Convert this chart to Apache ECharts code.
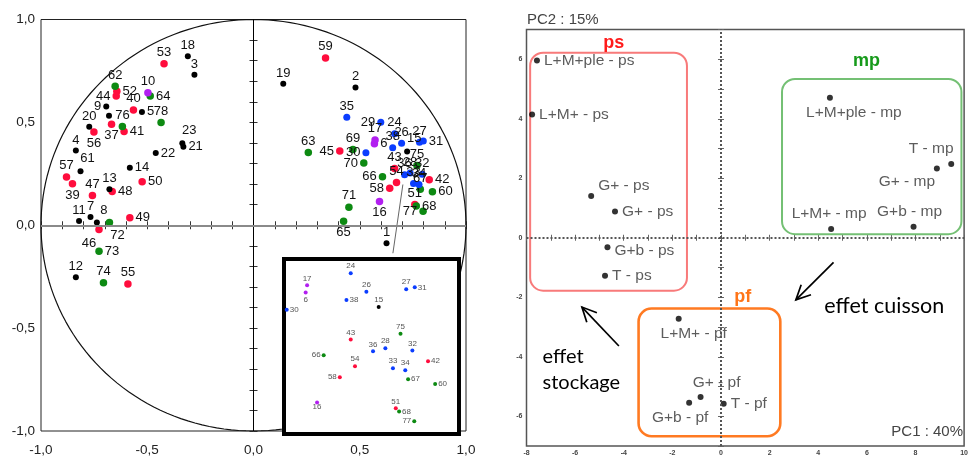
<!DOCTYPE html>
<html><head><meta charset="utf-8">
<script src="https://cdn.jsdelivr.net/npm/echarts@6/dist/echarts.min.js"></script>
<style>html,body{margin:0;padding:0;background:#fff}#c{width:971px;height:457px}</style>
</head><body><div id="c"></div>
<script>
// ===== Left panel: variables (correlation circle) [label, PC1 corr, PC2 corr] =====
const redVars = [
  ['53',-0.421,0.785],['52',-0.643,0.651],['44',-0.646,0.628],['40',-0.565,0.560],['37',-0.668,0.491],
  ['56',-0.751,0.453],['41',-0.609,0.456],['57',-0.880,0.234],['39',-0.852,0.202],['50',-0.524,0.212],
  ['47',-0.758,0.145],['48',-0.665,0.164],['49',-0.582,0.037],['46',-0.727,-0.021],['55',-0.591,-0.285],
  ['59',0.339,0.813],['45',0.406,0.361],['43',0.664,0.276],['42',0.827,0.221],['54',0.673,0.208],
  ['58',0.641,0.180],['51',0.759,0.101]
];
const blackVars = [
  ['18',-0.309,0.821],['3',-0.278,0.732],['9',-0.693,0.577],['5',-0.525,0.551],['25',-0.680,0.532],
  ['20',-0.773,0.479],['23',-0.335,0.399],['21',-0.330,0.382],['4',-0.836,0.363],['22',-0.460,0.351],
  ['61',-0.814,0.263],['14',-0.582,0.280],['13',-0.678,0.175],['11',-0.821,0.021],['7',-0.767,0.040],
  ['8',-0.737,0.013],['12',-0.836,-0.253],['19',0.140,0.688],['2',0.480,0.670],['1',0.626,-0.087],
  ['15',0.723,0.359]
];
const greenVars = [
  ['62',-0.651,0.675],['64',-0.486,0.628],['78',-0.435,0.499],['76',-0.617,0.480],['72',-0.678,0.013],
  ['73',-0.727,-0.126],['74',-0.706,-0.279],['63',0.258,0.353],['69',0.468,0.368],['70',0.519,0.302],
  ['65',0.424,0.020],['71',0.449,0.088],['75',0.769,0.291],['66',0.607,0.236],['67',0.785,0.175],
  ['60',0.842,0.163],['68',0.766,0.093],['77',0.798,0.068]
];
const blueVars = [
  ['35',0.439,0.525],['29',0.599,0.501],['24',0.664,0.445],['26',0.697,0.398],['27',0.781,0.404],
  ['31',0.799,0.409],['38',0.655,0.377],['30',0.529,0.352],['36',0.711,0.246],['28',0.737,0.254],
  ['32',0.794,0.248],['33',0.753,0.203],['34',0.779,0.198]
];
const purpleVars = [
  ['10',-0.497,0.644],['17',0.572,0.414],['6',0.569,0.396],['16',0.593,0.116]
];
const circleTicks = ['-1,0','-0,5','0,0','0,5','1,0'];

// ===== Right panel: observations (PCA scores) =====
const obsNames = ['L+M+ple - ps','L+M+ - ps','G+ - ps','G+ - ps','G+b - ps','T - ps',
  'L+M+ - pf','G+ - pf','G+b - pf','T - pf',
  'L+M+ple - mp','T - mp','G+ - mp','L+M+ - mp','G+b - mp'];
const obsPC1 = [-7.57,-7.77,-5.34,-4.36,-4.67,-4.77, -1.74,-0.84,-1.31,0.11, 4.48,9.47,8.88,4.53,7.92];
const obsPC2 = [5.96,4.14,1.40,0.88,-0.32,-1.28, -2.72,-5.35,-5.55,-5.58, 4.71,2.48,2.33,0.29,0.37];

// group boxes (annotation, data units)
const boxNames = ['ps','mp','pf'];
const boxLeft = [-7.85, 2.51, -3.39];
const boxTop = [6.22, 5.34, -2.38];
const boxRight = [-1.40, 9.89, 2.44];
const boxBottom = [-1.78, 0.12, -6.67];
const boxTitleX = [-4.41, 5.99, 0.89];
const boxTitleY = [6.55, 5.94, -1.99];

// arrows + comments (annotation, data units)
const arrowText = ['effet\nstockage', 'effet cuisson'];
const arrowFromX = [-4.20, 4.63], arrowFromY = [-3.64, -0.83];
const arrowToX = [-5.72, 3.08], arrowToY = [-2.33, -2.09];
const textX = [-7.34, 4.25], textY = [-4.44, -2.29];

// ===== styles =====
const colRed = '#ff0d3d', colBlack = '#000000', colGreen = '#0d8a12', colBlue = '#0b3dff', colPurple = '#b21ff0';
const boxStroke = ['#f87a7a', '#74c074', '#ff7a22'];
const boxLineW = [2, 2, 2.6];
const boxTitleCol = ['#ff1a1a', '#169a1a', '#ff7417'];
const arrowFont = ['20px Lato', '21.5px Lato'];

const mainLabelPos = {
  '52':'right','44':'left','64':'right','9':'left','5':'right','25':'hide','37':'bottom','56':'bottom',
  '41':'right','23':'topRight','21':'right','22':'right','61':'topRight','14':'right','39':'bottom',
  '50':'right','48':'right','8':'topRight','72':'bottomRight','49':'right','46':'bottomLeft','73':'right',
  '29':'left','45':'left','70':'left','65':'bottom','31':'right','30':'left','6':'right','66':'left',
  '58':'left','16':'bottom','77':'left','68':'right','60':'right','42':'right','15':'topRight'
};
const insetLabelPos = {
  '30':'right','31':'right','38':'right','66':'left','58':'left','42':'right','67':'right','60':'right',
  '68':'right','6':'bottom','16':'bottomC','77':'left'
};
const obsLabel = [
  {position:'right',offset:[0,0]},{position:'right'},{position:'right',offset:[0,-10]},{position:'right'},
  {position:'right',offset:[0,3]},{position:'right'},
  {position:'bottom',offset:[15,0]},{position:'top',offset:[16,1]},{position:'bottom',offset:[-9,0]},{position:'right'},
  {position:'bottom',offset:[24,0]},{position:'top',offset:[-20,0]},{position:'bottom',offset:[-30,-2]},
  {position:'top',offset:[-2,0]},{position:'top',offset:[-4,0]}
];

function lbl(pos, small){
  const d = small ? 1 : 2;
  switch(pos){
    case 'left': return {position:'left', distance:d};
    case 'right': return {position:'right', distance:d};
    case 'bottom': return {position:'bottom', distance:1};
    case 'bottomC': return {position:'bottom', distance:-2};
    case 'topRight': return {position:'top', offset:[7,2]};
    case 'bottomRight': return {position:'bottom', offset:[8,-2]};
    case 'bottomLeft': return {position:'bottom', offset:[-10,-1]};
    case 'hide': return {show:false};
    default: return {position:'top', distance:1};
  }
}

const INSET_X = [0.5233, 0.8923], INSET_Y = [0.0356, 0.4811];

function mainSeries(arr, color, size){
  return {
    type:'scatter', xAxisIndex:0, yAxisIndex:0, z:3, symbolSize:size, silent:true,
    itemStyle:{color:color, opacity:1},
    label:{show:true, color:'#111', fontSize:13, fontFamily:'Liberation Sans', formatter:'{b}'},
    data: arr.map(d => ({name:d[0], value:[d[1],d[2]], label:lbl(mainLabelPos[d[0]])}))
  };
}
function insetSeries(arr, color){
  return {
    type:'scatter', xAxisIndex:2, yAxisIndex:2, z:10, symbolSize:4, silent:true,
    itemStyle:{color:color, opacity:1},
    label:{show:true, color:'#555', fontSize:8, fontFamily:'Liberation Sans', formatter:'{b}'},
    data: arr.filter(d => d[1]>INSET_X[0] && d[1]<INSET_X[1] && d[2]>INSET_Y[0] && d[2]<INSET_Y[1])
      .map(d => ({name:d[0], value:[d[1],d[2]], label:lbl(insetLabelPos[d[0]], true)}))
  };
}

// unit circle (reference guide)
const circle = [];
for (let a = 0; a <= 360; a += 2) circle.push([Math.cos(a*Math.PI/180), Math.sin(a*Math.PI/180)]);

function circleLabel(v){
  const k = Math.round(v*2);
  if (Math.abs(v*2 - k) > 1e-6) return '';
  return circleTicks[k + 2];
}
function evenLabel(v){
  const r = Math.round(v);
  return (Math.abs(v-r) < 1e-6 && r % 2 === 0) ? String(r) : '';
}

const tickMain = {show:true, inside:true, length:4, lineStyle:{color:'#333', width:1}};
const tickRight = {show:true, inside:true, length:3, lineStyle:{color:'#666', width:1}};

const chart = echarts.init(document.getElementById('c'), null, {renderer:'canvas'});
chart.setOption({
  animation:false,
  backgroundColor:'#fff',
  grid:[
    {left:41, top:19.5, width:425, height:420, show:true, borderColor:'#222', borderWidth:1, backgroundColor:'transparent'},
    {left:284, top:259, width:175, height:175, show:true, borderColor:'#000', borderWidth:4, backgroundColor:'#fff', z:5},
    {left:526.5, top:29.5, width:443, height:416.5, show:true, borderColor:'#555', borderWidth:1.5, backgroundColor:'transparent'}
  ],
  xAxis:[
    {gridIndex:0, type:'value', min:-1, max:1, interval:0.1, position:'bottom', axisLine:{show:false}, axisTick:tickMain,
     splitLine:{show:false}, axisLabel:{margin:12, color:'#222', fontSize:13.5, fontFamily:'Liberation Sans', formatter:circleLabel, showMinLabel:true, showMaxLabel:true}},
    {gridIndex:0, type:'value', min:-1, max:1, interval:0.1, position:'top', axisLine:{show:false}, axisTick:tickMain,
     splitLine:{show:false}, axisLabel:{show:false}},
    {gridIndex:1, type:'value', min:INSET_X[0], max:INSET_X[1], show:false},
    {gridIndex:2, type:'value', min:-8, max:10, interval:1, position:'bottom', axisLine:{show:false}, axisTick:tickRight,
     splitLine:{show:false}, axisLabel:{margin:4, color:'#444', fontSize:7, fontWeight:'bold', fontFamily:'Liberation Sans', formatter:evenLabel}},
    {gridIndex:2, type:'value', min:-8, max:10, interval:1, position:'top', axisLine:{show:false}, axisTick:tickRight,
     splitLine:{show:false}, axisLabel:{show:false}}
  ],
  yAxis:[
    {gridIndex:0, type:'value', min:-1, max:1, interval:0.1, position:'left', axisLine:{show:false}, axisTick:tickMain,
     splitLine:{show:false}, axisLabel:{margin:6, color:'#222', fontSize:13.5, fontFamily:'Liberation Sans', formatter:circleLabel}},
    {gridIndex:0, type:'value', min:-1, max:1, interval:0.1, position:'right', axisLine:{show:false}, axisTick:tickMain,
     splitLine:{show:false}, axisLabel:{show:false}},
    {gridIndex:1, type:'value', min:INSET_Y[0], max:INSET_Y[1], show:false},
    {gridIndex:2, type:'value', min:-7, max:7, interval:1, position:'left', axisLine:{show:false}, axisTick:tickRight,
     splitLine:{show:false}, axisLabel:{margin:4, color:'#444', fontSize:7, fontWeight:'bold', fontFamily:'Liberation Sans', formatter:evenLabel}},
    {gridIndex:2, type:'value', min:-7, max:7, interval:1, position:'right', axisLine:{show:false}, axisTick:tickRight,
     splitLine:{show:false}, axisLabel:{show:false}}
  ],
  series:[
    {type:'line', xAxisIndex:0, yAxisIndex:0, z:1, data:circle, showSymbol:false, silent:true, smooth:false,
     lineStyle:{color:'#111', width:1.2},
     markLine:{silent:true, symbol:'none', label:{show:false},
       data:[{xAxis:0, lineStyle:{color:'#000', width:1, type:'solid'}},
             {yAxis:0, lineStyle:{color:'#8a8a8a', width:2, type:'solid'}}]}},
    {type:'line', xAxisIndex:0, yAxisIndex:0, z:2, data:[[0.703,0.198],[0.656,-0.136]], showSymbol:false, silent:true,
     lineStyle:{color:'#666', width:1}},
    mainSeries(redVars, colRed, 7.5),
    mainSeries(greenVars, colGreen, 7.5),
    mainSeries(blueVars, colBlue, 7),
    mainSeries(purpleVars, colPurple, 7.5),
    mainSeries(blackVars, colBlack, 6),
    insetSeries(redVars, colRed),
    insetSeries(greenVars, colGreen),
    insetSeries(blueVars, colBlue),
    insetSeries(purpleVars, colPurple),
    insetSeries(blackVars, colBlack),
    // right panel
    {type:'custom', xAxisIndex:3, yAxisIndex:3, z:2, silent:true, clip:false,
     data: boxNames.map((n,i) => [boxLeft[i], boxTop[i], boxRight[i], boxBottom[i]]),
     encode:{x:[0,2], y:[1,3]},
     renderItem(params, api){
       const i = params.dataIndex;
       const p1 = api.coord([boxLeft[i], boxTop[i]]);
       const p2 = api.coord([boxRight[i], boxBottom[i]]);
       const t = api.coord([boxTitleX[i], boxTitleY[i]]);
       return {type:'group', children:[
         {type:'rect', shape:{x:p1[0], y:p1[1], width:p2[0]-p1[0], height:p2[1]-p1[1], r:13},
          style:{fill:'none', stroke:boxStroke[i], lineWidth:boxLineW[i]}},
         {type:'text', style:{text:boxNames[i], x:t[0], y:t[1], fill:boxTitleCol[i],
          font:'bold 18px "Liberation Sans"', textAlign:'center', textVerticalAlign:'middle'}}
       ]};
     }},
    {type:'custom', xAxisIndex:3, yAxisIndex:3, z:2, silent:true, clip:false,
     data: arrowText.map((n,i) => [arrowFromX[i], arrowFromY[i], arrowToX[i], arrowToY[i]]),
     encode:{x:[0,2], y:[1,3]},
     renderItem(params, api){
       const i = params.dataIndex;
       const a = api.coord([arrowFromX[i], arrowFromY[i]]);
       const b = api.coord([arrowToX[i], arrowToY[i]]);
       const t = api.coord([textX[i], textY[i]]);
       const ang = Math.atan2(b[1]-a[1], b[0]-a[0]);
       const L = 16, w = 0.45;
       const h1 = [b[0]-L*Math.cos(ang-w), b[1]-L*Math.sin(ang-w)];
       const h2 = [b[0]-L*Math.cos(ang+w), b[1]-L*Math.sin(ang+w)];
       return {type:'group', children:[
         {type:'line', shape:{x1:a[0], y1:a[1], x2:b[0], y2:b[1]}, style:{stroke:'#000', lineWidth:1.7}},
         {type:'polyline', shape:{points:[h1,b,h2]}, style:{stroke:'#000', lineWidth:1.7, fill:null}},
         {type:'text', style:{text:arrowText[i], x:t[0], y:t[1], fill:'#000', font:arrowFont[i],
           lineHeight:26, textAlign:'left', textVerticalAlign:'middle'}}
       ]};
     }},
    {type:'scatter', xAxisIndex:3, yAxisIndex:3, z:4, symbolSize:6, silent:true,
     itemStyle:{color:'#000'},
     label:{show:true, color:'#333', fontSize:15.5, fontFamily:'Liberation Sans', distance:4, formatter:'{b}'},
     data: obsNames.map((n,i) => ({name:n, value:[obsPC1[i], obsPC2[i]], label:obsLabel[i]})),
     markLine:{silent:true, symbol:'none', label:{show:false},
       lineStyle:{color:'#555', width:2, type:[2,2]},
       data:[{xAxis:0},{yAxis:0}]}}
  ],
  graphic:[
    {type:'text', left:527, top:12, z:10, style:{text:'PC2 : 15%', fill:'#444', font:'15px "Liberation Sans"'}},
    {type:'text', right:8, top:424, z:10, style:{text:'PC1 : 40%', fill:'#444', font:'15px "Liberation Sans"'}}
  ]
});
</script>
</body></html>
